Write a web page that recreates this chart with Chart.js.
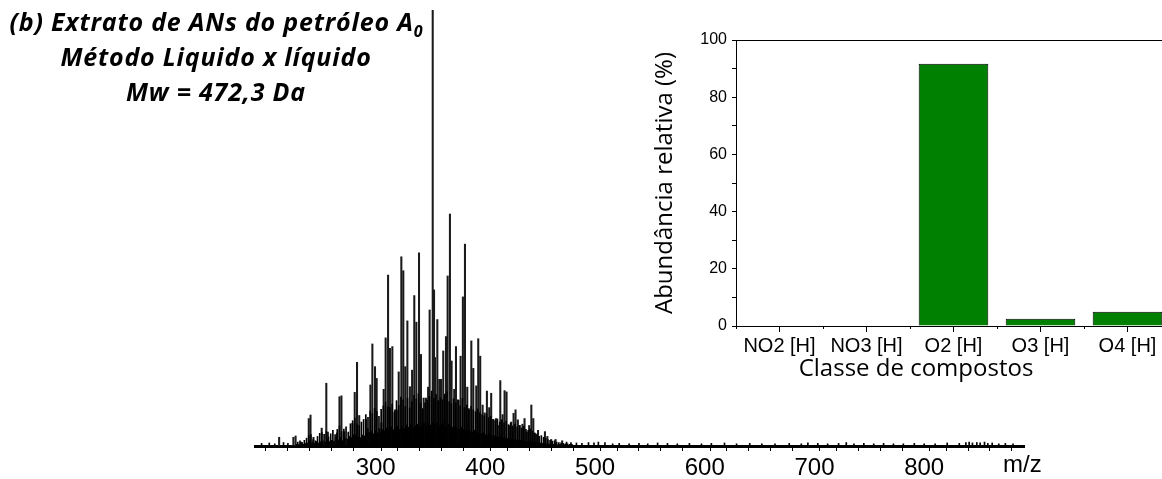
<!DOCTYPE html>
<html>
<head>
<meta charset="utf-8">
<script src="https://cdn.jsdelivr.net/npm/chart.js@4.4.0/dist/chart.umd.min.js"></script>
<style>
  html, body { margin: 0; padding: 0; background: #fff; overflow: hidden; }
  #wrap { position: relative; width: 1162px; height: 479px; overflow: hidden; }
  #spec { position: absolute; left: 0; top: 0; }
  #inset { position: absolute; left: 600px; top: 0; }
  #title { position: absolute; left: 0; top: 4px; width: 432px; text-align: center;
    font-family: "Open Sans", sans-serif; font-weight: bold; font-style: italic;
    font-size: 25px; line-height: 35px; color: #000; letter-spacing: 0.8px; }
  #title sub { font-size: 16px; vertical-align: -6px; line-height: 0; letter-spacing: 0; }
</style>
</head>
<body>
<div id="wrap">
  <canvas id="spec" width="1162" height="479"></canvas>
  <canvas id="inset" width="600" height="420"></canvas>
  <div id="title">(b) Extrato de ANs do petróleo A<sub>0</sub><br>Método Liquido x líquido<br>Mw = 472,3 Da</div>
</div>
<script>
// mass spectrum - main peaks (m/z, relative intensity %)
var peakMz = [212, 225, 227, 239, 240.6, 243.3, 250.8, 255, 256.4, 264.8, 267, 268.8, 271.3, 276.5, 278.8,
  280.9, 283, 285, 287, 291.2, 292.7, 295.2, 297, 299.4, 300.9, 303.3, 305.2, 307.3, 309.1, 311.3,
  313, 315.2, 317.7, 319.2, 321, 323.4, 325.2, 327, 328.9, 331.2, 333.2, 335.2, 337.1, 339.5, 341.3,
  343.7, 345.8, 347.8, 349.2, 352, 353.2, 354.1, 356.2, 358, 359.6, 361.6, 364.1, 365.6, 367.7, 369.2,
  371.6, 373.2, 375.6, 377.4, 379.5, 381.4, 383.5, 385, 387.2, 389, 391.7, 393.5, 395.3, 397.5, 399.3,
  401.4, 403.5, 405.3, 407.4, 409.6, 411.4, 413.6, 415.7, 417.5, 419.3, 421.7, 423.5, 425.7, 427.5, 429.6,
  431.4, 433.8, 435.7, 437.8, 439.9, 441.9, 443.7, 445.8, 448, 454.3, 456.5, 460, 464, 470];
var peakInt = [2.0, 2.0, 2.3, 6.3, 7.1, 2.0, 4.1, 14.4, 3.2, 3.0, 11.3, 11.5, 3.3, 1.5, 5.2,
  12.3, 19.2, 7.0, 2.0, 6.1, 4.0, 14.0, 23.4, 18.2, 15.5, 4.0, 5.3, 13.0, 24.8, 39.2,
  22.4, 22.8, 8.3, 8.3, 17.0, 43.4, 40.2, 18.2, 28.7, 13.6, 17.4, 34.5, 28.4, 44.3, 21.0,
  11.0, 11.0, 13.5, 31.2, 100, 35.8, 20.3, 29.0, 15.3, 15.3, 21.8, 25.1, 39.0, 53.2, 19.5,
  13.0, 22.8, 10.5, 20.6, 34.2, 46.3, 13.5, 8.3, 24.1, 17.8, 13.8, 24.6, 20.6, 9.4, 7.6,
  12.6, 8.8, 12.1, 6.0, 6.3, 4.7, 15.0, 7.2, 12.7, 12.4, 4.7, 5.5, 7.5, 8.3, 6.0,
  4.7, 5.0, 6.3, 3.2, 4.7, 9.4, 6.3, 2.8, 3.6, 3.3, 2.2, 1.5, 1.5, 1.2];

// dense low-level signal, one value per nominal m/z starting at fillStart
var fillStart = 228;
var fillInt = [
  0.4, 0.9, 0.3, 1.2, 0.5, 0.8, 0.4, 1.3, 0.6, 1.8, 0.7, 2.4,
  1.1, 2.6, 0.8, 1.5, 0.6, 1.2, 0.9, 2.2, 0.7, 2.9, 1.0, 3.1,
  1.2, 2.7, 0.9, 3.4, 1.5, 2.1, 1.0, 2.8, 1.3, 3.6, 1.1, 2.6,
  1.9, 3.8, 1.4, 4.6, 2.0, 3.3, 1.2, 3.9, 1.8, 4.4, 1.6, 3.2,
  2.2, 5.1, 1.9, 5.8, 2.6, 6.4, 2.4, 5.0, 2.1, 4.7, 1.8, 5.5,
  2.5, 6.1, 2.3, 7.2, 2.9, 6.6, 3.1, 8.0, 3.4, 7.4, 2.8, 8.6,
  3.6, 7.9, 3.0, 6.8, 3.3, 8.4, 3.8, 9.2, 3.5, 10.1, 4.1, 9.0,
  3.9, 8.8, 4.4, 9.6, 3.7, 7.8, 4.2, 10.4, 4.6, 9.3, 3.8, 11.2,
  4.5, 10.6, 4.0, 9.1, 4.8, 11.0, 4.3, 8.7, 4.9, 10.2, 4.1, 11.6,
  4.6, 10.8, 5.0, 12.0, 4.4, 9.8, 4.7, 8.6, 5.2, 9.9, 4.6, 10.5,
  5.1, 11.4, 4.8, 12.6, 5.4, 10.9, 4.9, 11.8, 5.3, 10.4, 4.7, 11.1,
  4.9, 10.6, 5.2, 11.9, 4.5, 12.4, 5.0, 10.2, 4.6, 9.7, 4.3, 10.8,
  4.4, 9.9, 4.1, 10.6, 3.9, 9.2, 4.3, 10.9, 3.8, 8.8, 3.6, 9.4,
  3.7, 8.6, 3.4, 9.1, 3.2, 8.3, 3.6, 7.9, 3.1, 8.5, 2.9, 7.6,
  2.8, 7.2, 3.0, 6.9, 2.6, 7.4, 2.5, 6.5, 2.7, 6.8, 2.3, 6.1,
  2.4, 5.8, 2.1, 6.2, 2.0, 5.5, 2.2, 6.0, 1.9, 5.3, 1.8, 5.7,
  1.7, 4.9, 1.8, 5.2, 1.6, 4.6, 1.5, 5.0, 1.4, 4.4, 1.3, 4.7,
  1.3, 4.1, 1.2, 4.5, 1.1, 3.8, 1.0, 3.6, 1.1, 3.9, 0.9, 3.4,
  0.9, 3.0, 0.8, 2.6, 0.7, 2.2, 0.7, 2.4, 0.6, 2.0, 0.6, 1.8,
  0.5, 1.5, 0.5, 1.3, 0.4, 1.1, 0.4, 1.2, 0.4, 0.9, 0.3, 0.8,
  0.3, 0.7, 0.3, 0.6, 0.3, 0.5, 0.3, 0.5, 0.2, 0.4, 0.2, 0.4];

// baseline noise
var noiseMz = [196, 203, 208, 216, 220, 232, 246, 259, 262, 474, 478, 483, 488, 494, 499, 503, 509, 516, 522,
  531, 540, 548, 557, 566, 575, 586, 597, 606, 618, 629, 641, 652, 664, 677, 688, 694, 703, 712, 722,
  729, 736, 745, 754, 763, 772, 781, 791, 800, 810, 821, 832, 838, 841, 844, 848, 851, 855, 858, 862,
  868, 874, 881];
var noiseInt = [0.6, 0.7, 0.5, 0.8, 0.6, 0.9, 1.0, 1.2, 1.0, 0.9, 0.8, 0.7, 0.6, 0.8, 0.7, 0.9, 0.8, 0.5, 0.6,
  0.5, 0.6, 0.5, 0.7, 0.6, 0.5, 0.6, 0.5, 0.6, 0.7, 0.5, 0.6, 0.5, 0.5, 0.6, 0.5, 0.7, 0.6, 0.5, 0.6,
  0.8, 0.5, 0.6, 0.5, 0.6, 0.5, 0.5, 0.6, 0.5, 0.5, 0.7, 0.6, 0.8, 0.9, 0.7, 0.8, 0.7, 0.9, 0.6, 0.7,
  0.5, 0.6, 0.5];

var mzLabels = [300, 400, 500, 600, 700, 800];
var mzMinor = [];
for (var t = 210; t <= 890; t += 20) mzMinor.push(t);

// inset: class abundance
var classes = ['NO2 [H]', 'NO3 [H]', 'O2 [H]', 'O3 [H]', 'O4 [H]'];
var abundance = [0, 0, 91.7, 2.5, 5.0];
var abLabels = [0, 20, 40, 60, 80, 100];

function toXY(xs, ys) {
  return xs.map(function (x, i) { return { x: x, y: ys[i] }; });
}
var fillXY = fillInt.map(function (v, i) { return { x: fillStart + i, y: v }; });

var mzText = {
  id: 'mzText',
  afterDraw: function (chart) {
    var ctx = chart.ctx, xs = chart.scales.x;
    ctx.save();
    ctx.fillStyle = '#000';
    ctx.font = '24px "Liberation Sans"';
    ctx.textAlign = 'left';
    ctx.textBaseline = 'middle';
    ctx.fillText('m/z', xs.right - 21, xs.top + 19);
    ctx.restore();
  }
};

new Chart(document.getElementById('spec'), {
  type: 'bar',
  data: {
    datasets: [
      { data: toXY(noiseMz, noiseInt), backgroundColor: '#000', barThickness: 1, grouped: false },
      { data: fillXY, backgroundColor: '#000', barThickness: 1, grouped: false },
      { data: toXY(peakMz, peakInt), backgroundColor: '#1a1a1a', barThickness: 1.4, grouped: false }
    ]
  },
  options: {
    responsive: false,
    animation: false,
    layout: { padding: { left: 255, right: 138, top: 10, bottom: 0 } },
    plugins: { legend: { display: false }, tooltip: { enabled: false } },
    scales: {
      x: {
        type: 'linear', min: 190, max: 891, offset: false,
        afterBuildTicks: function (s) {
          s.ticks = mzMinor.concat(mzLabels).sort(function (a, b) { return a - b; })
            .map(function (v) { return { value: v }; });
        },
        ticks: {
          autoSkip: false, maxRotation: 0, color: '#000', padding: 3,
          font: { family: 'Liberation Sans', size: 24 },
          callback: function (v) { return mzLabels.indexOf(v) >= 0 ? String(v) : ''; }
        },
        grid: {
          drawOnChartArea: false, tickLength: 5, tickWidth: 1,
          tickColor: function (c) {
            return c.tick && mzLabels.indexOf(c.tick.value) >= 0 ? 'rgba(0,0,0,0)' : '#000';
          }
        },
        border: { color: '#000', width: 3 },
        afterFit: function (s) { s.height = 33; }
      },
      y: { display: false, min: 0, max: 100 }
    }
  },
  plugins: [mzText]
});

var insetExtras = {
  id: 'insetExtras',
  afterDraw: function (chart) {
    var ctx = chart.ctx, xs = chart.scales.x, area = chart.chartArea;
    var step = xs.width / classes.length;
    ctx.save();
    ctx.strokeStyle = '#000';
    ctx.lineWidth = 1;
    for (var i = 0; i <= classes.length; i++) {
      var px = Math.round(xs.left + i * step) + 0.5;
      ctx.beginPath();
      ctx.moveTo(px, area.bottom);
      ctx.lineTo(px, area.bottom + 3);
      ctx.stroke();
    }
    ctx.fillStyle = '#000';
    ctx.font = '24px "Open Sans"';
    ctx.textAlign = 'center';
    ctx.textBaseline = 'middle';
    ctx.fillText('Classe de compostos', xs.left + 180, area.bottom + 43);
    ctx.restore();
  }
};

new Chart(document.getElementById('inset'), {
  type: 'bar',
  data: {
    labels: classes,
    datasets: [{
      data: abundance, backgroundColor: '#008000', borderColor: '#000', borderWidth: 1,
      barPercentage: 0.8, categoryPercentage: 1
    }]
  },
  options: {
    responsive: false,
    animation: false,
    layout: { padding: { left: 0, right: 29, top: 40, bottom: 0 } },
    plugins: { legend: { display: false }, tooltip: { enabled: false } },
    scales: {
      x: {
        grid: { offset: false, drawOnChartArea: false, tickLength: 6, color: '#000' },
        border: { color: '#000', width: 1 },
        ticks: { color: '#000', padding: 2, maxRotation: 0, font: { family: 'Liberation Sans', size: 20 } },
        afterFit: function (s) { s.height = 94; }
      },
      x2: {
        position: 'top',
        grid: { display: false },
        ticks: { display: false },
        border: { color: '#000', width: 1 },
        afterFit: function (s) { s.height = 0; }
      },
      y: {
        min: 0, max: 100,
        ticks: {
          stepSize: 10, color: '#000', padding: 5,
          font: { family: 'Liberation Sans', size: 16 },
          callback: function (v) { return abLabels.indexOf(v) >= 0 ? String(v) : ''; }
        },
        grid: { drawOnChartArea: false, tickLength: 4, color: '#000' },
        border: { color: '#000', width: 1 },
        title: {
          display: true, text: 'Abundância relativa (%)', color: '#000',
          font: { family: 'Open Sans', size: 24 }, padding: { top: 51, bottom: 0 }
        },
        afterFit: function (s) { s.width = 136; }
      }
    }
  },
  plugins: [insetExtras]
});
</script>
</body>
</html>
